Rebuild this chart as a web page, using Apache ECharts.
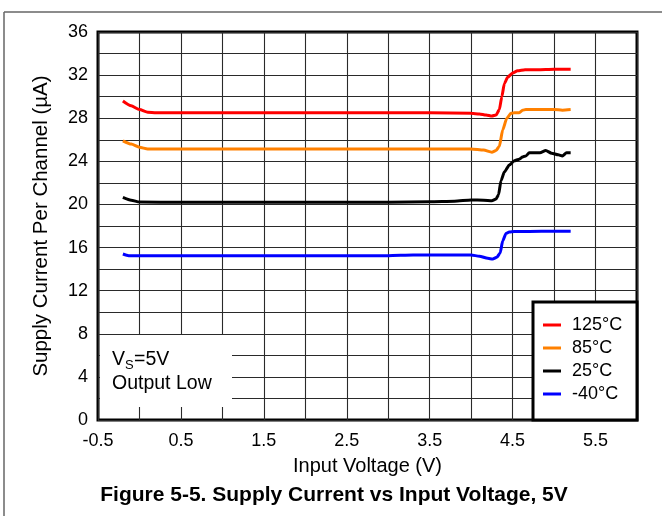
<!DOCTYPE html>
<html>
<head>
<meta charset="utf-8">
<script src="https://cdn.jsdelivr.net/npm/echarts@6/dist/echarts.min.js"></script>
<style>
html,body{margin:0;padding:0;background:#fff;}
#chart{width:662px;height:516px;}
</style>
</head>
<body>
<div id="chart"></div>
<script>
// ---- Data ----
const seriesNames = ['125°C', '85°C', '25°C', '-40°C'];
const seriesColors = ['#ff0000', '#ff8000', '#000000', '#0000ff'];

const x125 = [-0.2,-0.1,0.0,0.1,0.2,0.5,1.0,1.5,2.0,2.5,3.0,3.5,4.0,4.1,4.18,4.25,4.3,4.34,4.37,4.4,4.44,4.5,4.56,4.65,4.8,5.0,5.2];
const y125 = [29.6,29.15,28.8,28.55,28.5,28.5,28.5,28.5,28.5,28.5,28.5,28.5,28.45,28.4,28.3,28.2,28.3,28.8,30.0,31.2,31.8,32.2,32.4,32.5,32.5,32.55,32.55];

const x85 = [-0.2,-0.1,0.0,0.1,0.2,0.5,1.0,1.5,2.0,2.5,3.0,3.5,4.0,4.15,4.25,4.3,4.34,4.38,4.43,4.48,4.52,4.58,4.62,4.66,4.8,5.0,5.1,5.2];
const y85 = [25.9,25.6,25.3,25.15,25.15,25.15,25.15,25.15,25.15,25.15,25.15,25.15,25.15,25.05,24.85,25.0,25.4,26.9,28.0,28.45,28.5,28.5,28.75,28.8,28.8,28.8,28.75,28.8];

const x25 = [-0.2,-0.1,0.0,0.5,1.0,1.5,2.0,2.5,3.0,3.5,3.8,4.0,4.15,4.25,4.3,4.33,4.36,4.4,4.46,4.52,4.58,4.62,4.66,4.7,4.83,4.9,4.97,5.05,5.1,5.15,5.2];
const y25 = [20.66,20.4,20.22,20.2,20.2,20.2,20.2,20.2,20.2,20.25,20.3,20.42,20.4,20.35,20.5,20.9,22.2,23.0,23.65,24.05,24.2,24.4,24.5,24.8,24.8,25.0,24.75,24.6,24.5,24.8,24.8];

const xm40 = [-0.2,-0.13,0.0,0.5,1.0,1.5,2.0,2.5,3.0,3.3,3.5,4.0,4.1,4.2,4.26,4.31,4.35,4.38,4.42,4.46,4.52,4.7,5.0,5.2];
const ym40 = [15.4,15.25,15.25,15.25,15.25,15.25,15.25,15.25,15.25,15.3,15.3,15.3,15.2,15.0,14.93,15.1,15.5,16.6,17.3,17.45,17.5,17.5,17.52,17.52];

const xLabels = [-0.5, 0.5, 1.5, 2.5, 3.5, 4.5, 5.5];
const yLabels = [0, 4, 8, 12, 16, 20, 24, 28, 32, 36];

const xTitle = 'Input Voltage (V)';
const yTitle = 'Supply Current Per Channel (µA)';
const caption = 'Figure 5-5. Supply Current vs Input Voltage, 5V';

// ---- Build ----
const FONT = '"Liberation Sans", Arial, Helvetica, sans-serif';
const xsAll = [x125, x85, x25, xm40];
const ysAll = [y125, y85, y25, ym40];

function pairs(xs, ys) { return xs.map((x, i) => [x, ys[i]]); }

const series = seriesNames.map((name, i) => ({
  name: name,
  type: 'line',
  data: pairs(xsAll[i], ysAll[i]),
  showSymbol: false,
  symbol: 'none',
  smooth: 0.2,
  smoothMonotone: 'x',
  lineStyle: { color: seriesColors[i], width: 3 },
  itemStyle: { color: seriesColors[i] },
  z: 3
}));

const chart = echarts.init(document.getElementById('chart'), null, { renderer: 'canvas' });

const gridLine = { show: true, lineStyle: { color: '#2a2a2a', width: 1.1 } };

chart.setOption({
  animation: false,
  backgroundColor: '#fff',
  textStyle: { fontFamily: FONT },
  grid: {
    left: 98, right: 25, top: 32, bottom: 96,
    show: true, borderColor: '#000', borderWidth: 3, backgroundColor: 'transparent',
    containLabel: false
  },
  xAxis: {
    type: 'value',
    min: -0.5, max: 6.0, interval: 0.5,
    axisLine: { show: false },
    axisTick: { show: false },
    splitLine: gridLine,
    axisLabel: {
      color: '#000', fontSize: 18, fontFamily: FONT, margin: 12,
      formatter: v => {
        const hit = xLabels.find(l => Math.abs(l - v) < 1e-6);
        return hit === undefined ? '' : String(hit);
      }
    },
    name: xTitle, nameLocation: 'middle', nameGap: 36,
    nameTextStyle: { color: '#000', fontSize: 20, fontFamily: FONT }
  },
  yAxis: {
    type: 'value',
    min: 0, max: 36, interval: 2,
    axisLine: { show: false },
    axisTick: { show: false },
    splitLine: gridLine,
    axisLabel: {
      color: '#000', fontSize: 18, fontFamily: FONT, margin: 10,
      formatter: v => (yLabels.indexOf(v) >= 0 ? String(v) : '')
    },
    name: yTitle, nameLocation: 'middle', nameGap: 46,
    nameTextStyle: { color: '#000', fontSize: 20.5, fontFamily: FONT }
  },
  legend: {
    show: true,
    orient: 'vertical',
    left: 543, top: 316,
    padding: 0,
    itemWidth: 18, itemHeight: 3, itemGap: 5,
    icon: 'rect',
    z: 20,
    textStyle: { color: '#000', fontSize: 18, fontFamily: FONT, lineHeight: 18, padding: [0, 0, 0, 6] },
    data: seriesNames
  },
  graphic: [
    // figure frame
    { type: 'line', z: 1, shape: { x1: 4, y1: 12, x2: 662, y2: 12 }, style: { stroke: '#666', lineWidth: 1.5 } },
    { type: 'line', z: 1, shape: { x1: 4, y1: 12, x2: 4, y2: 516 }, style: { stroke: '#666', lineWidth: 1.5 } },
    // legend box
    { type: 'rect', z: 10, shape: { x: 533, y: 302, width: 104, height: 118 }, style: { fill: '#fff', stroke: '#000', lineWidth: 3 } },
    // annotation box
    { type: 'rect', z: 10, shape: { x: 100, y: 335, width: 132, height: 72 }, style: { fill: '#fff', stroke: null } },
    { type: 'text', z: 11, x: 112, y: 360, style: { text: 'V', fontSize: 19.5, fontFamily: FONT, fill: '#000', verticalAlign: 'middle' } },
    { type: 'text', z: 11, x: 125, y: 365, style: { text: 'S', fontSize: 13, fontFamily: FONT, fill: '#000', verticalAlign: 'middle' } },
    { type: 'text', z: 11, x: 134, y: 360, style: { text: '=5V', fontSize: 19.5, fontFamily: FONT, fill: '#000', verticalAlign: 'middle' } },
    { type: 'text', z: 11, x: 112, y: 384, style: { text: 'Output Low', fontSize: 19.5, fontFamily: FONT, fill: '#000', verticalAlign: 'middle' } },
    // caption
    { type: 'text', z: 11, x: 334, y: 495, style: { text: caption, fontSize: 21, fontWeight: 'bold', fontFamily: FONT, fill: '#000', align: 'center', verticalAlign: 'middle' } }
  ],
  series: series
});
</script>
</body>
</html>
